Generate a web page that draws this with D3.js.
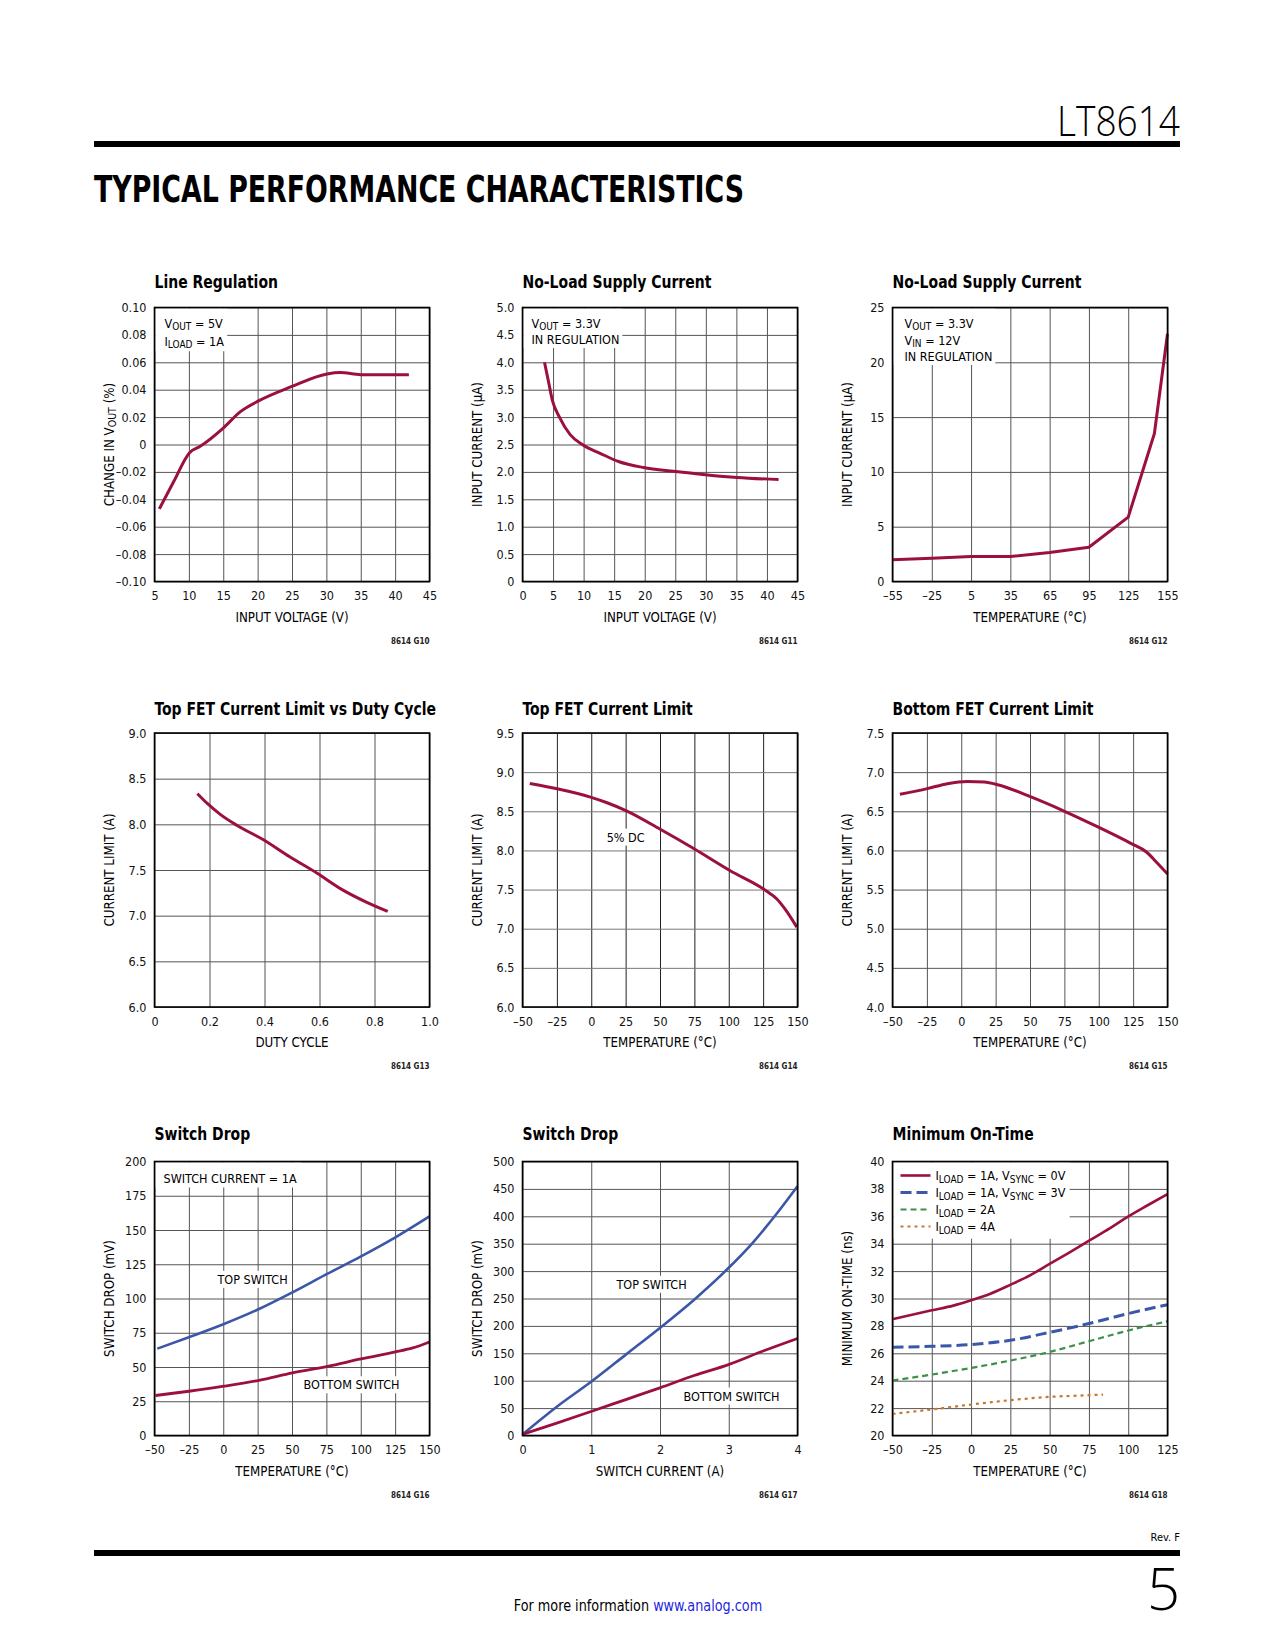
<!DOCTYPE html>
<html><head><meta charset="utf-8">
<script src="https://cdn.jsdelivr.net/npm/d3@7"></script>
<style>
html,body{margin:0;padding:0;background:#fff;}
svg{display:block;}
</style></head><body>
<svg id="page" width="1275" height="1650"></svg>
<script>
// ---------------- DATA ----------------
// G10 Line Regulation
const g10Vin    = [5.7, 7.8, 10.1, 11.6, 15.0, 17.5, 20.2, 24.8, 30.1, 32.0, 35.0, 42.0];
const g10Change = [-0.047, -0.027, -0.006, -0.0015, 0.012, 0.024, 0.032, 0.042, 0.0515, 0.0525, 0.051, 0.051];
const g10XTicks = [5, 10, 15, 20, 25, 30, 35, 40, 45];
const g10YTicks = [-0.10, -0.08, -0.06, -0.04, -0.02, 0, 0.02, 0.04, 0.06, 0.08, 0.10];
const g10YLabels = ["\u20130.10", "\u20130.08", "\u20130.06", "\u20130.04", "\u20130.02", "0", "0.02", "0.04", "0.06", "0.08", "0.10"];

// G11 No-Load Supply Current vs VIN
const g11Vin = [3.6, 4.25, 4.9, 6.0, 7.8, 9.9, 12.7, 15.7, 19.8, 24.7, 29.9, 35.1, 41.9];
const g11Iq  = [4.0, 3.65, 3.30, 3.01, 2.68, 2.49, 2.34, 2.19, 2.08, 2.01, 1.95, 1.90, 1.86];
const g11XTicks = [0, 5, 10, 15, 20, 25, 30, 35, 40, 45];
const g11YTicks = [0, 0.5, 1.0, 1.5, 2.0, 2.5, 3.0, 3.5, 4.0, 4.5, 5.0];
const g11YLabels = ["0", "0.5", "1.0", "1.5", "2.0", "2.5", "3.0", "3.5", "4.0", "4.5", "5.0"];

// G12 No-Load Supply Current vs Temperature
const g12Temp = [-55, -25, 5, 35, 65, 95, 125, 145, 155];
const g12Iq   = [1.98, 2.13, 2.28, 2.28, 2.65, 3.13, 5.87, 13.5, 22.6];
const g12XTicks = [-55, -25, 5, 35, 65, 95, 125, 155];
const g12XLabels = ["\u201355", "\u201325", "5", "35", "65", "95", "125", "155"];
const g12YTicks = [0, 5, 10, 15, 20, 25];

// G13 Top FET Current Limit vs Duty Cycle
const g13Duty  = [0.156, 0.193, 0.239, 0.299, 0.393, 0.493, 0.590, 0.687, 0.772, 0.848];
const g13Limit = [8.336, 8.226, 8.109, 7.99, 7.836, 7.642, 7.467, 7.277, 7.146, 7.047];
const g13XTicks = [0, 0.2, 0.4, 0.6, 0.8, 1.0];
const g13XLabels = ["0", "0.2", "0.4", "0.6", "0.8", "1.0"];
const g13YTicks = [6.0, 6.5, 7.0, 7.5, 8.0, 8.5, 9.0];
const g13YLabels = ["6.0", "6.5", "7.0", "7.5", "8.0", "8.5", "9.0"];

// G14 Top FET Current Limit vs Temperature
const g14Temp  = [-44.7, -24.8, -0.6, 11.5, 26, 50.2, 74.5, 101.1, 126.5, 135, 141, 149.5];
const g14Limit = [8.855, 8.787, 8.681, 8.609, 8.503, 8.27, 8.024, 7.74, 7.493, 7.38, 7.25, 7.02];
const g14XTicks = [-50, -25, 0, 25, 50, 75, 100, 125, 150];
const g14XLabels = ["\u201350", "\u201325", "0", "25", "50", "75", "100", "125", "150"];
const g14YTicks = [6.0, 6.5, 7.0, 7.5, 8.0, 8.5, 9.0, 9.5];
const g14YLabels = ["6.0", "6.5", "7.0", "7.5", "8.0", "8.5", "9.0", "9.5"];

// G15 Bottom FET Current Limit vs Temperature
const g15Temp  = [-44.6, -24.7, -10.1, 4.5, 16.7, 26.4, 50.7, 75.1, 99.4, 123.7, 134.7, 142, 150];
const g15Limit = [6.717, 6.789, 6.853, 6.882, 6.874, 6.84, 6.683, 6.5, 6.3, 6.087, 5.98, 5.85, 5.70];
const g15XTicks = [-50, -25, 0, 25, 50, 75, 100, 125, 150];
const g15XLabels = ["\u201350", "\u201325", "0", "25", "50", "75", "100", "125", "150"];
const g15YTicks = [4.0, 4.5, 5.0, 5.5, 6.0, 6.5, 7.0, 7.5];
const g15YLabels = ["4.0", "4.5", "5.0", "5.5", "6.0", "6.5", "7.0", "7.5"];

// G16 Switch Drop vs Temperature
const g16Temp   = [-48, -25, 0.5, 26, 50.4, 75.9, 100.2, 125.2, 150];
const g16Top    = [63.4, 71.7, 81.4, 92.3, 104.5, 118.1, 130.7, 144.6, 159.9];
const g16TempB  = [-49.3, -25, 0.5, 26, 50.4, 75.9, 100.2, 125.2, 137.8, 150];
const g16Bottom = [29.2, 32.3, 36, 40.3, 45.7, 50.5, 55.9, 61, 63.9, 68.3];
const g16XTicks = [-50, -25, 0, 25, 50, 75, 100, 125, 150];
const g16XLabels = ["\u201350", "\u201325", "0", "25", "50", "75", "100", "125", "150"];
const g16YTicks = [0, 25, 50, 75, 100, 125, 150, 175, 200];

// G17 Switch Drop vs Switch Current
const g17Cur    = [0, 0.509, 1.008, 1.503, 1.998, 2.497, 2.996, 3.345, 3.685, 4.0];
const g17Top    = [2, 53.5, 99, 147.6, 196.2, 247.9, 305.6, 351.2, 402.8, 455];
const g17CurB   = [0, 0.509, 1.008, 1.503, 1.998, 2.497, 2.996, 3.491, 4.0];
const g17Bottom = [2, 23, 44.3, 65.6, 86.9, 109.4, 129.4, 153.7, 177];
const g17XTicks = [0, 1, 2, 3, 4];
const g17YTicks = [0, 50, 100, 150, 200, 250, 300, 350, 400, 450, 500];

// G18 Minimum On-Time vs Temperature
const g18Temp  = [-49.6, -25, -11.3, 0.1, 11.9, 25.2, 37.5, 50, 63, 75.1, 88.5, 100.1, 111.8, 125];
const g18Sync0 = [28.5, 29.14, 29.48, 29.87, 30.33, 31.01, 31.69, 32.52, 33.39, 34.22, 35.14, 35.99, 36.77, 37.62];
const g18TempB = [-50, -25, 0, 25, 50, 75, 100, 125];
const g18Sync3 = [26.44, 26.51, 26.64, 26.95, 27.53, 28.17, 28.9, 29.55];
const g18Load2 = [24.01, 24.45, 24.93, 25.47, 26.1, 26.88, 27.66, 28.34];
const g18TempD = [-50, -25, 0, 25, 50, 75, 84];
const g18Load4 = [21.58, 21.9, 22.26, 22.58, 22.82, 22.94, 22.99];
const g18XTicks = [-50, -25, 0, 25, 50, 75, 100, 125];
const g18XLabels = ["\u201350", "\u201325", "0", "25", "50", "75", "100", "125"];
const g18YTicks = [20, 22, 24, 26, 28, 30, 32, 34, 36, 38, 40];

// ---------------- STYLE ----------------
const FONT = "'Liberation Sans Narrow','Arial Narrow','DejaVu Sans Condensed',sans-serif";
const THIN = "'Open Sans','Lato','DejaVu Sans',sans-serif";
const RED = "#9b1040", BLUE = "#3c56a8", GREEN = "#3d8f4a", ORANGE = "#c7772f";
const W = 275, H = 274;
const COLS = [154.5, 522.5, 892.5];
const ROWS = [307.5, 733, 1161.5];
const TITLE_Y = [288, 715, 1140];
const TITLE_SQUEEZE = 0.84;

const svg = d3.select("#page").style("font-family", FONT);

function squeeze(sel, k) {
  const n = sel.node();
  const w = n.getComputedTextLength();
  sel.attr("textLength", w * k).attr("lengthAdjust", "spacingAndGlyphs");
  return sel;
}

// ---------------- PAGE FRAME ----------------
svg.append("text").attr("x", 1180).attr("y", 136).attr("text-anchor", "end")
  .attr("font-family", THIN).attr("font-size", 42).attr("font-weight", 300).attr("textLength", 123)
  .attr("lengthAdjust", "spacingAndGlyphs").text("LT8614");
svg.append("rect").attr("x", 94).attr("y", 141).attr("width", 1086).attr("height", 6).attr("fill", "#000");
svg.append("text").attr("x", 94).attr("y", 202)
  .attr("font-family", "'DejaVu Sans Condensed','DejaVu Sans',sans-serif")
  .attr("font-size", 37).attr("font-weight", 900).attr("textLength", 650)
  .attr("lengthAdjust", "spacingAndGlyphs").text("TYPICAL PERFORMANCE CHARACTERISTICS");

svg.append("text").attr("x", 1180).attr("y", 1541).attr("text-anchor", "end")
  .attr("font-size", 11).text("Rev. F");
svg.append("rect").attr("x", 94).attr("y", 1550).attr("width", 1086).attr("height", 6).attr("fill", "#000");
svg.append("text").attr("x", 1180).attr("y", 1610).attr("text-anchor", "end")
  .attr("font-family", THIN).attr("font-size", 58).attr("font-weight", 300).text("5");
const foot = svg.append("text").attr("x", 638).attr("y", 1611).attr("text-anchor", "middle").attr("font-size", 15);
foot.append("tspan").attr("fill", "#000").text("For more information ");
foot.append("tspan").attr("fill", "#1f1fe0").text("www.analog.com");
squeeze(foot, 0.95);

// ---------------- HELPERS ----------------
function rich(g, x, y, parts, size, anchor) {
  const t = g.append("text").attr("x", x).attr("y", y).attr("font-size", size)
    .attr("text-anchor", anchor || "start");
  let sub = false;
  parts.forEach(p => {
    const isSub = Array.isArray(p);
    const s = isSub ? p[0] : p;
    const ts = t.append("tspan").text(s);
    if (isSub && !sub) { ts.attr("dy", size * 0.22).attr("font-size", size * 0.8); sub = true; }
    else if (isSub) { ts.attr("font-size", size * 0.8); }
    else if (!isSub && sub) { ts.attr("dy", -size * 0.22); sub = false; }
  });
  return t;
}

function whiteBehind(g, textSel, box) {
  const b = textSel.node().getBBox();
  const r = box ? box(b) : { x: b.x - 2, y: b.y - 1, w: b.width + 4, h: b.height + 2 };
  g.insert("rect", ":first-child").attr("x", r.x).attr("y", r.y).attr("width", r.w).attr("height", r.h).attr("fill", "#fff");
}

function chart(o) {
  const left = COLS[o.col], top = ROWS[o.row];
  const x = d3.scaleLinear().domain(o.xDomain).range([left, left + W]);
  const y = d3.scaleLinear().domain(o.yDomain).range([top + H, top]);
  const g = svg.append("g");
  const grid = g.append("g");
  const annot = g.append("g");
  const marks = g.append("g");

  const gx = grid.append("g").attr("transform", `translate(0,${top + H})`)
    .call(d3.axisBottom(x).tickValues(o.xTicks).tickSize(-H).tickPadding(10)
      .tickFormat((d, i) => o.xLabels ? o.xLabels[i] : String(d)));
  gx.select(".domain").remove();
  gx.selectAll(".tick line").attr("stroke", o.vGrid || "#555").attr("stroke-width", 1);
  gx.selectAll(".tick text").attr("font-size", 12.5).attr("font-family", FONT).attr("fill", "#111");

  const gy = grid.append("g").attr("transform", `translate(${left},0)`)
    .call(d3.axisLeft(y).tickValues(o.yTicks).tickSize(-W).tickPadding(8)
      .tickFormat((d, i) => o.yLabels ? o.yLabels[i] : String(d)));
  gy.select(".domain").remove();
  gy.selectAll(".tick line").attr("stroke", o.hGrid || "#555").attr("stroke-width", 1);
  gy.selectAll(".tick text").attr("font-size", 12.5).attr("font-family", FONT).attr("fill", "#111");

  g.append("rect").attr("x", left).attr("y", top).attr("width", W).attr("height", H)
    .attr("fill", "none").attr("stroke", "#000").attr("stroke-width", 1.6);

  const tt = svg.append("text").attr("x", left).attr("y", TITLE_Y[o.row]).attr("font-size", 18.5)
    .attr("font-weight", "bold").text(o.title);
  squeeze(tt, TITLE_SQUEEZE);

  svg.append("text").attr("x", left + W / 2).attr("y", top + H + 40).attr("text-anchor", "middle")
    .attr("font-size", 13.2).text(o.xTitle);
  rich(svg, 0, 0, o.yTitle, 13.2, "middle")
    .attr("transform", `translate(${left - 41},${top + H / 2}) rotate(-90)`);

  svg.append("text").attr("x", left + W).attr("y", top + H + 62).attr("text-anchor", "end")
    .attr("font-size", 8).attr("font-weight", "bold").attr("fill", "#222").text(o.id);

  o.series.forEach(s => {
    const pts = s.x.map((v, i) => [v, s.y[i]]);
    marks.append("path").datum(pts)
      .attr("d", d3.line().x(d => x(d[0])).y(d => y(d[1])).curve(s.curve || d3.curveMonotoneX))
      .attr("fill", "none").attr("stroke", s.color).attr("stroke-width", s.width || 3)
      .attr("stroke-dasharray", s.dash || null).attr("stroke-linejoin", "round");
  });

  if (o.annot) o.annot(annot, x, y, left, top);
}

const cornerBox = (l, t, padR, padB) => b => ({ x: l + 1, y: t + 1, w: b.x + b.width + padR - l - 1, h: b.y + b.height + padB - t - 1 });

// ---------------- CHARTS ----------------
chart({
  col: 0, row: 0, id: "8614 G10", title: "Line Regulation",
  xDomain: [5, 45], yDomain: [-0.10, 0.10], xTicks: g10XTicks, yTicks: g10YTicks, yLabels: g10YLabels,
  xTitle: "INPUT VOLTAGE (V)", yTitle: ["CHANGE IN V", ["OUT"], " (%)"],
  series: [{ x: g10Vin, y: g10Change, color: RED }],
  annot: (a, x, y, l, t) => {
    const tg = a.append("g");
    rich(tg, l + 10, t + 20, ["V", ["OUT"], " = 5V"], 12.5);
    rich(tg, l + 10, t + 38, ["I", ["LOAD"], " = 1A"], 12.5);
    whiteBehind(a, tg, cornerBox(l, t, 3, 1));
  }
});

chart({
  col: 1, row: 0, id: "8614 G11", title: "No-Load Supply Current",
  xDomain: [0, 45], yDomain: [0, 5], xTicks: g11XTicks, yTicks: g11YTicks, yLabels: g11YLabels,
  xTitle: "INPUT VOLTAGE (V)", yTitle: ["INPUT CURRENT (\u00b5A)"],
  series: [{ x: g11Vin, y: g11Iq, color: RED }],
  annot: (a, x, y, l, t) => {
    const tg = a.append("g");
    rich(tg, l + 9, t + 20, ["V", ["OUT"], " = 3.3V"], 12.5);
    rich(tg, l + 9, t + 36.5, ["IN REGULATION"], 12.5);
    whiteBehind(a, tg, cornerBox(l, t, 3, 1));
  }
});

chart({
  col: 2, row: 0, id: "8614 G12", title: "No-Load Supply Current",
  xDomain: [-55, 155], yDomain: [0, 25], xTicks: g12XTicks, xLabels: g12XLabels, yTicks: g12YTicks,
  xTitle: "TEMPERATURE (\u00b0C)", yTitle: ["INPUT CURRENT (\u00b5A)"],
  series: [{ x: g12Temp, y: g12Iq, color: RED, curve: d3.curveLinear }],
  annot: (a, x, y, l, t) => {
    const tg = a.append("g");
    rich(tg, l + 12, t + 20, ["V", ["OUT"], " = 3.3V"], 12.5);
    rich(tg, l + 12, t + 37, ["V", ["IN"], " = 12V"], 12.5);
    rich(tg, l + 12, t + 53.5, ["IN REGULATION"], 12.5);
    whiteBehind(a, tg, cornerBox(l, t, 3, 1));
  }
});

chart({
  col: 0, row: 1, id: "8614 G13", title: "Top FET Current Limit vs Duty Cycle",
  xDomain: [0, 1], yDomain: [6, 9], xTicks: g13XTicks, xLabels: g13XLabels, yTicks: g13YTicks, yLabels: g13YLabels,
  xTitle: "DUTY CYCLE", yTitle: ["CURRENT LIMIT (A)"],
  series: [{ x: g13Duty, y: g13Limit, color: RED }]
});

chart({
  col: 1, row: 1, id: "8614 G14", title: "Top FET Current Limit",
  xDomain: [-50, 150], yDomain: [6, 9.5], xTicks: g14XTicks, xLabels: g14XLabels, yTicks: g14YTicks, yLabels: g14YLabels,
  xTitle: "TEMPERATURE (\u00b0C)", yTitle: ["CURRENT LIMIT (A)"], vGrid: "#222", hGrid: "#777",
  series: [{ x: g14Temp, y: g14Limit, color: RED }],
  annot: (a, x, y, l, t) => {
    const tg = a.append("g");
    rich(tg, x(25), y(8.17) + 4.5, ["5% DC"], 12.5, "middle");
    whiteBehind(a, tg);
  }
});

chart({
  col: 2, row: 1, id: "8614 G15", title: "Bottom FET Current Limit",
  xDomain: [-50, 150], yDomain: [4, 7.5], xTicks: g15XTicks, xLabels: g15XLabels, yTicks: g15YTicks, yLabels: g15YLabels,
  xTitle: "TEMPERATURE (\u00b0C)", yTitle: ["CURRENT LIMIT (A)"],
  series: [{ x: g15Temp, y: g15Limit, color: RED }]
});

chart({
  col: 0, row: 2, id: "8614 G16", title: "Switch Drop",
  xDomain: [-50, 150], yDomain: [0, 200], xTicks: g16XTicks, xLabels: g16XLabels, yTicks: g16YTicks,
  xTitle: "TEMPERATURE (\u00b0C)", yTitle: ["SWITCH DROP (mV)"],
  series: [
    { x: g16Temp, y: g16Top, color: BLUE, width: 2.6 },
    { x: g16TempB, y: g16Bottom, color: RED, width: 2.8 }
  ],
  annot: (a, x, y, l, t) => {
    const tg = a.append("g");
    rich(tg, l + 9, t + 21, ["SWITCH CURRENT = 1A"], 12.5);
    whiteBehind(a, tg, cornerBox(l, t, 4, 2));
    const t2 = a.append("g");
    rich(t2, l + 63, y(114) + 4.5, ["TOP SWITCH"], 12.5);
    whiteBehind(a, t2);
    const t3 = a.append("g");
    rich(t3, l + 149, y(37) + 4.5, ["BOTTOM SWITCH"], 12.5);
    whiteBehind(a, t3);
  }
});

chart({
  col: 1, row: 2, id: "8614 G17", title: "Switch Drop",
  xDomain: [0, 4], yDomain: [0, 500], xTicks: g17XTicks, yTicks: g17YTicks,
  xTitle: "SWITCH CURRENT (A)", yTitle: ["SWITCH DROP (mV)"],
  series: [
    { x: g17Cur, y: g17Top, color: BLUE, width: 2.6 },
    { x: g17CurB, y: g17Bottom, color: RED, width: 2.8 }
  ],
  annot: (a, x, y, l, t) => {
    const t2 = a.append("g");
    rich(t2, l + 94, y(276) + 4.5, ["TOP SWITCH"], 12.5);
    whiteBehind(a, t2);
    const t3 = a.append("g");
    rich(t3, l + 161, y(72) + 4.5, ["BOTTOM SWITCH"], 12.5);
    whiteBehind(a, t3);
  }
});

chart({
  col: 2, row: 2, id: "8614 G18", title: "Minimum On-Time",
  xDomain: [-50, 125], yDomain: [20, 40], xTicks: g18XTicks, xLabels: g18XLabels, yTicks: g18YTicks,
  xTitle: "TEMPERATURE (\u00b0C)", yTitle: ["MINIMUM ON-TIME (ns)"],
  series: [
    { x: g18Temp, y: g18Sync0, color: RED, width: 2.6 },
    { x: g18TempB, y: g18Sync3, color: BLUE, width: 3, dash: "11,5" },
    { x: g18TempB, y: g18Load2, color: GREEN, width: 2.2, dash: "6,4" },
    { x: g18TempD, y: g18Load4, color: ORANGE, width: 2.2, dash: "3,4" }
  ],
  annot: (a, x, y, l, t) => {
    const lg = a.append("g");
    const items = [
      { parts: ["I", ["LOAD"], " = 1A, V", ["SYNC"], " = 0V"], color: RED, w: 2.6, dash: null },
      { parts: ["I", ["LOAD"], " = 1A, V", ["SYNC"], " = 3V"], color: BLUE, w: 3, dash: "11,5" },
      { parts: ["I", ["LOAD"], " = 2A"], color: GREEN, w: 2.2, dash: "6,4" },
      { parts: ["I", ["LOAD"], " = 4A"], color: ORANGE, w: 2.2, dash: "3,4" }
    ];
    items.forEach((it, i) => {
      const cy = t + 14 + i * 17;
      lg.append("line").attr("x1", l + 8).attr("x2", l + 38).attr("y1", cy).attr("y2", cy)
        .attr("stroke", it.color).attr("stroke-width", it.w).attr("stroke-dasharray", it.dash);
      rich(lg, l + 43, cy + 4.5, it.parts, 12.5);
    });
    whiteBehind(a, lg, cornerBox(l, t, 4, 3));
  }
});
</script>
</body></html>
